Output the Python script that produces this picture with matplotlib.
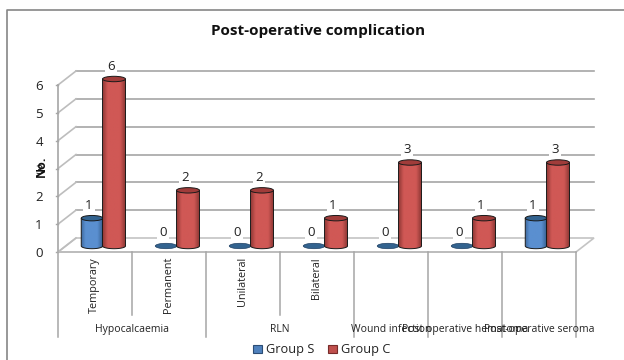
import numpy as np
import matplotlib
matplotlib.use('Agg')
import matplotlib.pyplot as plt
from matplotlib.patches import Ellipse, Polygon, Rectangle
from matplotlib.colors import to_rgb

# chart values
subcategories = ['Temporary', 'Permanent', 'Unilateral', 'Bilateral', '', '', '']
groups = ['Hypocalcaemia', 'RLN', 'Wound infection', 'Post operative hematoma', 'Post-operative seroma']
group_spans = [(0, 2), (2, 4), (4, 5), (5, 6), (6, 7)]
group_s = [1, 0, 0, 0, 0, 0, 1]
group_c = [6, 2, 2, 1, 3, 1, 3]
y_ticks = [0, 1, 2, 3, 4, 5, 6]

W, H = 624, 360
plt.rcParams['font.family'] = ['Open Sans', 'DejaVu Sans']

# plot area in pixels
left, right, base, top = 58, 576, 252, 85
xpx = (right - left) / 7
ypx = (base - top) / 6

# helpers to express pixel offsets in axis units
dx = lambda p: p / xpx
dy = lambda p: p / ypx

fig = plt.figure(figsize=(W / 100, H / 100), dpi=100)
# axes fill the figure so the floor, labels and cylinders all share one scale
ax = fig.add_axes([0, 0, 1, 1])
ax.axis('off')

grey = '#a6a6a6'
depth_x, depth_y = dx(18), dy(14)

# overlay in pixel units for the frame, title and legend
frame = fig.add_axes([0, 0, 1, 1], zorder=-1)
frame.set_xlim(0, W)
frame.set_ylim(H, 0)
frame.axis('off')
ax.patch.set_visible(False)
frame.plot([7, 7, W], [H, 9.5, 9.5], color='#868686', lw=1.2)

# floor and back wall
ax.add_patch(Polygon([(0, 0), (7, 0), (7 + depth_x, depth_y), (depth_x, depth_y)],
                     closed=True, fc='white', ec='#c4c4c4', lw=1.2, zorder=1))
for v in y_ticks:
    if v > 0:
        ax.plot([depth_x, 7 + depth_x], [v + depth_y, v + depth_y], color=grey, lw=1.2, zorder=1)
    ax.plot([0, depth_x], [v, v + depth_y], color='#bdbdbd', lw=1.2, zorder=1)
    ax.plot([-dx(2), 0], [v, v], color=grey, lw=1, zorder=1)
    ax.text(-dx(19), v - dy(1.5), str(v), ha='center', va='center', fontsize=9.5, color='#222222')
ax.plot([0, 0], [0, 6], color=grey, lw=1.2, zorder=1)
ax.plot([0, 7], [0, 0], color='#bdbdbd', lw=1.4, zorder=2)

ax.text(-dx(17), dy(86), 'No.', rotation=90, ha='center', va='center', fontsize=9,
        fontweight='bold', color='#111111')


def draw_cylinder(x, v, width, light, dark, cap, z):
    # one cylinder standing on the floor, shaded from the edges in
    y0 = dy(6)
    rx, ry = width / 2, dy(2.7)
    if v == 0:
        ax.add_patch(Ellipse((x, y0), width, 2 * ry, fc=cap, ec='#1f3f62', lw=0.5, zorder=z))
        return
    t = np.linspace(-1, 1, 60)
    mix = np.clip((1 - np.abs(t + 0.05)) * 2.2, 0, 1)[None, :, None]
    shade = np.array(to_rgb(dark))[None, None, :] * (1 - mix) + np.array(to_rgb(light))[None, None, :] * mix
    img = ax.imshow(shade, extent=[x - rx, x + rx, y0 - ry, y0 + v], aspect='auto', zorder=z, interpolation='bilinear')
    a = np.linspace(np.pi, 2 * np.pi, 30)
    outline = [(x - rx, y0 + v)] + list(zip(x + rx * np.cos(a), y0 + ry * np.sin(a))) + [(x + rx, y0 + v)]
    clip = Polygon(outline, closed=True, transform=ax.transData)
    img.set_clip_path(clip)
    ax.add_patch(Polygon(outline, closed=False, fc='none', ec='#1a1a1a', lw=0.7, zorder=z + 0.1))
    ax.add_patch(Ellipse((x, y0 + v), width, 2 * ry, fc=cap, ec='#1a1a1a', lw=0.7, zorder=z + 0.2))


def value_label(x, v):
    ax.text(x - dx(3), v + dy(6) + dy(13), str(v), ha='center', va='center', fontsize=9.5, color='#222222',
            bbox=dict(fc='white', ec='none', pad=1.8), zorder=3)


for i in range(7):
    xs = i + 0.5 - dx(3)
    xc = i + 0.5 + dx(19)
    value_label(xs, group_s[i])
    value_label(xc, group_c[i])
    draw_cylinder(xs, group_s[i], dx(21.5), '#5a8fd0', '#3a6496', '#33638f', 4 + i)
    draw_cylinder(xc, group_c[i], dx(23), '#d05855', '#8f3835', '#a03c3a', 4.5 + i)

ax.set_xlim(-left / xpx, (W - left) / xpx)
ax.set_ylim(-(H - base) / ypx, base / ypx)

# two level category axis below the floor
minor_drop, major_drop = dy(63), dy(85)
for i in range(8):
    is_major = i in (0, 2, 4, 5, 6, 7)
    ax.plot([i, i], [0, -(major_drop if is_major else minor_drop)], color=grey, lw=1.1, zorder=2)
for i, name in enumerate(subcategories):
    if name:
        ax.text(i + 0.5 - dx(1), -dy(5), name, rotation=90, ha='center', va='top', fontsize=7.8, color='#222222')
for (a, b), name in zip(group_spans, groups):
    ax.text((a + b) / 2, -dy(80), name, ha='center', va='baseline', fontsize=7.5, color='#222222', zorder=5)

# title
frame.text(318, 31, 'Post-operative complication', ha='center', va='center', fontsize=11,
           fontweight='bold', color='#111111')

# legend
legend_items = [('Group S', 253, '#4f81bd', '#2c4d75'), ('Group C', 328, '#c0504d', '#772c2a')]
for name, x, fc, ec in legend_items:
    frame.add_patch(Rectangle((x, 345), 9, 8, fc=fc, ec=ec, lw=0.8))
    frame.text(x + 13, 349, name, ha='left', va='center', fontsize=9.2, color='#222222')

fig.savefig('out.png', dpi=100)
